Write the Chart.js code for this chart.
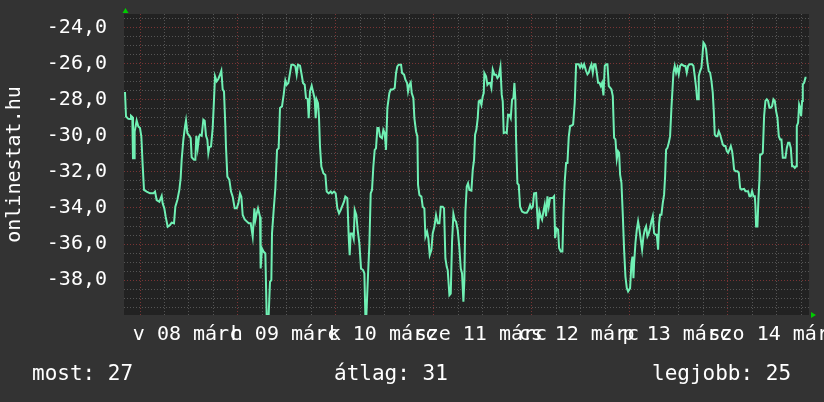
<!DOCTYPE html>
<html>
<head>
<meta charset="utf-8">
<script src="https://cdn.jsdelivr.net/npm/chart.js@4.4.0/dist/chart.umd.min.js"></script>
<style>
html, body { margin: 0; padding: 0; background: #333333; }
#wrap { width: 824px; height: 402px; }
</style>
</head>
<body>
<div id="wrap"><canvas id="chart" width="824" height="402"></canvas></div>
<script>
/* time axis in hours, 0 = 08 márc 00:00 */
var xMin = -3.92
var xMax = 163.9
var yMin = -39.93
var yMax = -23.25

var dayLabels = ['v 08 márc', 'h 09 márc', 'k 10 márc', 'sze 11 márc', 'cs 12 márc', 'p 13 márc', 'szo 14 márc']
var yLabelValues = [-38, -36, -34, -32, -30, -28, -26, -24]

var statLabels = ['most', 'átlag', 'legjobb']
var statValues = [27, 31, 25]

var hours = [
  -3.68,-3.43,-2.86,-2.45,-2.21,-1.88,-1.72,-1.47,-1.31,-0.82,
  -0.41,0,0.33,0.65,0.98,1.63,2.45,3.27,3.68,4.08,
  4.74,5.31,5.55,5.96,6.29,6.78,7.35,7.76,8.33,8.66,
  9.15,9.64,9.96,10.21,10.62,11.03,11.27,11.6,12.09,12.42,
  12.66,13.23,13.56,13.8,14.13,14.46,14.7,15.11,15.52,15.85,
  16.17,16.5,16.74,16.99,17.4,17.81,18.13,18.38,18.79,19.19,
  19.6,19.93,20.26,20.58,20.91,21.07,21.4,21.89,22.3,22.71,
  23.2,23.69,24.1,24.5,24.83,25.16,25.65,26.14,26.63,27.12,
  27.61,28.02,28.27,28.59,28.91,
  29.4,29.56,29.89,30.3,30.71,31.03,31.52,31.85,32.18,32.34,
  32.75,33.16,33.57,33.97,34.3,34.79,35.2,35.61,35.93,36.34,
  36.75,37.08,37.57,38.06,38.38,38.71,39.2,39.53,39.94,40.35,
  40.67,41.08,41.33,41.65,42.06,42.47,42.8,43.04,43.29,43.61,
  43.86,44.1,44.43,44.92,45.41,45.74,46.23,46.72,47.04,47.53,
  47.94,48.35,48.76,49.17,49.49,49.98,50.31,50.8,51.13,51.37,
  51.62,52.03,52.35,52.6,53.0,53.33,53.74,54.15,54.64,54.97,
  55.21,55.46,55.86,56.19,56.52,56.84,57.17,57.5,57.82,58.15,
  58.48,58.8,59.29,59.62,59.95,60.27,60.6,61.09,61.42,61.91,
  62.4,62.73,63.05,
  63.38,63.96,64.2,64.69,65.02,65.43,65.67,66.0,66.32,66.57,
  66.98,67.22,67.63,67.96,68.12,68.45,68.94,69.26,69.67,69.92,
  70.33,70.65,70.98,71.39,71.71,72.12,72.53,72.94,73.35,73.68,
  74.16,74.49,74.82,75.15,75.39,75.8,76.13,76.45,76.78,77.11,
  77.43,77.84,78.25,78.58,78.9,79.23,79.47,79.72,80.05,80.37,
  80.7,81.19,81.52,81.84,82.09,82.41,82.74,82.99,83.31,83.64,
  83.97,84.21,84.37,84.78,85.11,85.44,85.76,86.09,86.42,86.83,
  87.23,87.56,87.89,88.3,88.62,88.87,89.11,89.52,89.85,90.17,
  90.5,90.83,91.15,91.48,91.73,91.97,92.13,92.46,92.79,93.12,
  93.6,94.18,94.75,95.16,95.57,95.89,96.22,96.55,
  97.04,97.53,97.86,98.18,98.51,98.84,99.16,99.49,99.82,100.14,
  100.47,101.12,101.45,101.7,102.02,102.43,102.68,103.08,103.49,103.74,
  104.06,104.39,104.72,105.04,105.37,105.78,106.11,106.51,106.84,107.17,
  107.5,107.82,108.15,108.47,108.8,109.29,109.62,109.95,110.27,110.6,
  110.93,111.25,111.58,111.91,112.23,112.56,112.89,113.21,113.54,113.87,
  114.19,114.52,114.85,115.17,115.5,115.83,116.15,116.48,116.81,117.13,
  117.38,117.62,117.95,118.28,118.6,118.93,119.26,119.58,120.07,120.4,
  120.65,120.89,121.05,121.38,121.71,122.03,122.36,122.69,123.01,123.34,
  123.67,123.99,124.32,124.65,124.97,125.3,125.63,125.95,126.28,126.61,
  126.93,127.18,127.42,127.75,128.08,128.4,128.65,128.89,129.22,129.55,
  129.87,130.2,
  130.69,131.01,131.34,131.67,131.99,132.32,132.65,133.3,133.63,133.95,
  134.28,134.61,135.26,135.59,135.91,136.24,136.49,136.73,136.89,137.22,
  137.55,137.79,138.04,138.36,138.69,139.02,139.34,139.67,140.0,140.32,
  140.57,140.81,141.14,141.47,141.79,142.12,142.45,142.78,143.1,143.43,
  143.76,144.08,144.41,144.74,145.06,145.31,145.55,145.88,146.37,146.7,
  147.02,147.35,148.0,148.33,148.98,149.31,149.64,149.96,150.29,150.62,
  150.78,150.94,151.27,151.52,151.76,151.92,152.25,152.58,152.9,153.23,
  153.56,153.88,154.21,154.54,154.86,155.19,155.52,155.84,156.17,156.5,
  156.82,157.15,157.48,158.13,158.46,158.78,159.11,159.44,159.76,160.09,
  160.42,160.74,160.91,161.23,161.48,161.72,161.97,162.21,162.38,162.7,
  163.03,163.28
]

var temps = [
  -27.57,-28.93,-29.06,-29.07,-28.89,-28.96,-31.24,-31.24,-29.76,-29.15,
  -29.48,-29.57,-30.04,-31.61,-33.0,-33.09,-33.19,-33.19,-33.09,-33.56,
  -33.65,-33.33,-33.74,-34.02,-34.48,-35.04,-34.94,-34.81,-34.85,-33.93,
  -33.56,-33.0,-32.35,-31.33,-30.22,-29.48,-29.15,-29.85,-30.0,-30.13,
  -31.19,-31.33,-31.33,-30.0,-30.69,-30.04,-29.94,-30.0,-29.11,-29.17,
  -30.0,-30.22,-30.96,-30.63,-30.59,-29.57,-28.0,-26.7,-26.98,-26.85,
  -26.61,-26.39,-27.44,-27.54,-29.48,-30.63,-32.26,-32.44,-33.09,-33.37,
  -34.02,-34.02,-33.74,-33.19,-33.37,-34.39,-34.63,-34.74,-34.85,-34.85,
  -35.59,-34.02,-34.67,-34.3,-34.02,
  -34.48,-37.35,-36.24,-36.43,-36.52,-39.94,-39.94,-38.09,-38.0,-35.41,
  -34.11,-32.91,-30.78,-30.69,-28.46,-28.37,-27.72,-26.93,-27.17,-27.07,
  -26.52,-26.06,-26.06,-26.15,-26.61,-26.06,-26.11,-26.52,-27.07,-27.17,
  -27.91,-27.96,-29.02,-27.54,-27.22,-27.63,-27.96,-29.02,-28.0,-28.19,
  -29.02,-30.59,-31.7,-32.07,-32.17,-33.09,-33.19,-33.09,-33.19,-33.09,
  -33.19,-34.02,-34.3,-34.11,-33.93,-33.65,-33.37,-33.46,-35.59,-36.61,
  -35.41,-35.41,-35.69,-34.11,-34.39,-35.22,-35.96,-37.35,-37.44,-37.63,
  -39.94,-39.94,-37.72,-36.06,-33.19,-33.0,-31.7,-30.78,-30.69,-29.57,
  -29.57,-30.04,-30.13,-29.67,-29.85,-30.78,-28.46,-27.63,-27.44,-27.44,
  -27.35,-26.52,-26.15,
  -26.06,-26.06,-26.52,-26.61,-26.89,-27.07,-27.54,-27.17,-27.04,-27.63,
  -27.91,-29.02,-29.76,-30.04,-32.72,-33.28,-33.37,-33.93,-34.02,-35.59,
  -35.31,-35.69,-36.61,-36.33,-35.41,-35.04,-34.39,-34.85,-34.85,-33.93,
  -33.93,-34.02,-36.8,-37.26,-37.44,-38.83,-38.74,-35.87,-34.33,-34.67,
  -34.76,-35.22,-36.24,-37.35,-37.63,-39.2,-38.0,-34.2,-32.81,-32.63,
  -33.0,-33.04,-31.89,-31.33,-29.94,-29.67,-29.02,-28.09,-28.04,-28.28,
  -27.81,-27.63,-26.52,-26.7,-27.17,-27.07,-27.07,-27.35,-26.33,-26.61,
  -26.61,-26.8,-26.7,-26.19,-27.72,-28.09,-29.85,-29.81,-29.85,-28.83,
  -28.83,-29.02,-28.0,-27.91,-27.07,-28.0,-30.13,-32.63,-32.72,-33.93,
  -34.2,-34.26,-34.26,-34.11,-33.83,-34.02,-33.93,-33.19,
  -33.17,-35.17,-34.19,-34.46,-34.65,-34.19,-33.81,-34.46,-33.35,-33.91,
  -33.44,-33.44,-33.35,-35.67,-35.11,-35.2,-36.22,-36.41,-36.41,-34.28,
  -32.52,-31.5,-31.5,-30.06,-29.46,-29.43,-29.37,-28.17,-26.04,-26.04,
  -26.04,-26.22,-26.04,-26.22,-26.04,-26.41,-26.59,-26.5,-26.22,-26.04,
  -26.5,-26.04,-26.04,-26.5,-27.06,-27.06,-27.24,-27.06,-27.76,-26.13,
  -26.04,-26.04,-27.24,-27.33,-27.43,-27.8,-30.11,-30.2,-31.28,-30.85,
  -30.94,-32.15,-32.61,-34.37,-36.31,-37.8,-38.44,-38.63,-38.44,-37.06,
  -36.69,-37.89,-37.06,-35.94,-35.2,-34.74,-35.2,-35.76,-36.31,-35.57,
  -35.2,-35.02,-35.57,-35.39,-35.11,-34.74,-34.46,-35.39,-35.48,-35.48,
  -36.31,-34.83,-34.37,-34.37,-33.72,-33.26,-32.24,-30.76,-30.67,-30.39,
  -30.02,-28.44,
  -26.5,-26.13,-26.5,-26.22,-26.59,-26.13,-26.04,-26.13,-26.13,-26.5,
  -26.13,-26.04,-26.04,-26.13,-26.69,-27.33,-27.98,-27.98,-26.69,-26.41,
  -26.22,-25.57,-24.83,-24.93,-25.2,-25.94,-26.41,-26.5,-26.96,-27.61,
  -28.63,-29.93,-30.02,-30.02,-29.74,-29.93,-30.2,-30.48,-30.57,-30.57,
  -30.85,-30.94,-30.76,-30.57,-30.85,-31.31,-31.87,-31.96,-31.96,-32.06,
  -32.89,-32.98,-32.94,-33.07,-33.07,-33.35,-33.35,-33.07,-33.35,-33.35,
  -33.91,-35.02,-35.02,-33.44,-32.43,-31.04,-31.04,-30.94,-28.91,-28.07,
  -27.98,-28.07,-28.44,-28.44,-28.35,-27.98,-28.07,-28.63,-29.0,-30.02,
  -30.2,-30.2,-31.22,-31.22,-30.67,-30.39,-30.39,-30.67,-31.69,-31.69,
  -31.78,-31.69,-29.46,-29.28,-28.26,-28.44,-28.91,-28.07,-27.15,-27.06,
  -26.78,-26.78
]

var lineColor = '#70f0b4'
var majorGrid = '#7a3434'
var minorGrid = '#555555'
var monoFont = 'DejaVu Sans Mono'

/* grid every 6 hours, red at midnight; labels at noon */
var xGrid = []
for (var h = 0; h <= xMax; h += 6) xGrid.push(h)
var yGrid = []
for (var v = -39.5; v <= yMax; v += 0.5) yGrid.push(v)

var rrdPlugin = {
  id: 'rrd',
  beforeDraw: function(chart){
    var ctx = chart.ctx, a = chart.chartArea
    ctx.save()
    ctx.fillStyle = '#333333'
    ctx.fillRect(0, 0, chart.width, chart.height)
    ctx.fillStyle = '#222222'
    ctx.fillRect(a.left, a.top, a.right - a.left, a.bottom - a.top)
    ctx.restore()
  },
  afterDraw: function(chart){
    var ctx = chart.ctx, a = chart.chartArea
    ctx.save()
    // arrows on the axes
    ctx.fillStyle = '#00cc00'
    ctx.beginPath()
    ctx.moveTo(a.left + 1.5, a.top - 6)
    ctx.lineTo(a.left - 1.5, a.top - 1)
    ctx.lineTo(a.left + 4.5, a.top - 1)
    ctx.fill()
    ctx.beginPath()
    ctx.moveTo(a.right + 7, a.bottom)
    ctx.lineTo(a.right + 2, a.bottom - 3)
    ctx.lineTo(a.right + 2, a.bottom + 3)
    ctx.fill()
    // summary line
    ctx.fillStyle = '#ffffff'
    ctx.font = '21px "' + monoFont + '"'
    ctx.textBaseline = 'alphabetic'
    var xs = [32, 334, 652]
    for (var i = 0; i < statLabels.length; i++) {
      ctx.fillText(statLabels[i] + ': ' + statValues[i], xs[i], 380)
    }
    ctx.restore()
  }
}

new Chart(document.getElementById('chart'), {
  type: 'line',
  data: {
    datasets: [{
      data: hours.map(function(h, i){ return {x: h, y: temps[i]} }),
      borderColor: lineColor,
      borderWidth: 2,
      pointRadius: 0,
      tension: 0,
      fill: false
    }]
  },
  options: {
    responsive: false,
    animation: false,
    devicePixelRatio: 1,
    layout: { padding: { left: 0, right: 15, top: 14, bottom: 0 } },
    plugins: { legend: { display: false }, tooltip: { enabled: false } },
    scales: {
      x: {
        type: 'linear',
        min: xMin,
        max: xMax,
        afterBuildTicks: function(s){ s.ticks = xGrid.map(function(v){ return {value: v} }) },
        afterFit: function(s){ s.height = 87; s.paddingLeft = 0; s.paddingRight = 0 },
        grid: {
          drawTicks: false,
          lineWidth: 1,
          color: function(c){ return c.tick && c.tick.value % 24 === 0 ? majorGrid : minorGrid }
        },
        border: { display: false, dash: [1, 2] },
        ticks: {
          autoSkip: false,
          maxRotation: 0,
          minRotation: 0,
          padding: 8,
          labelOffset: -2,
          color: '#ffffff',
          font: { family: monoFont, size: 20 },
          callback: function(v){
            if (v % 24 !== 12) return ''
            return dayLabels[(v - 12) / 24] || ''
          }
        }
      },
      y: {
        min: yMin,
        max: yMax,
        afterBuildTicks: function(s){ s.ticks = yGrid.map(function(v){ return {value: v} }) },
        afterFit: function(s){ s.width = 124; s.paddingTop = 0; s.paddingBottom = 0 },
        grid: {
          drawTicks: false,
          lineWidth: 1,
          color: function(c){ return c.tick && yLabelValues.indexOf(c.tick.value) >= 0 ? majorGrid : minorGrid }
        },
        border: { display: false, dash: [1, 2] },
        title: {
          display: true,
          text: 'onlinestat.hu',
          color: '#ffffff',
          font: { family: monoFont, size: 20 },
          padding: { top: 3, bottom: 0 }
        },
        ticks: {
          autoSkip: false,
          padding: 17,
          color: '#ffffff',
          font: { family: monoFont, size: 20 },
          callback: function(v){
            if (yLabelValues.indexOf(v) < 0) return ''
            return v.toFixed(1).replace('.', ',')
          }
        }
      }
    }
  },
  plugins: [rrdPlugin]
})
</script>
</body>
</html>
